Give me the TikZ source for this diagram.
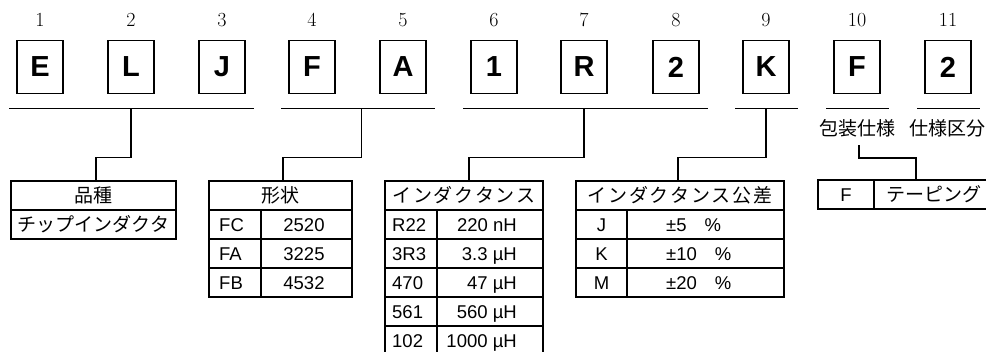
\documentclass[tikz,border=0pt]{standalone}
\usepackage{fontspec}
\usepackage{tikz}
\usetikzlibrary{calc}
\newfontfamily\helv{Liberation Sans}
\newfontfamily\cjk{Noto Sans CJK JP}
\newcommand{\spread}[2]{\makebox[#1]{\spaceskip=0pt plus 1fil\relax #2}}

\tikzset{
  code/.style={draw, line width=1.1pt, minimum width=46pt, minimum height=53pt,
    inner sep=0pt, font=\helv\bfseries\fontsize{29}{30}\selectfont},
  posnum/.style={anchor=base, inner sep=0pt, font=\fontsize{20}{22}\selectfont},
  bracket/.style={line width=1.1pt},
  link/.style={line width=1.1pt},
  tbl/.style={line width=1.1pt},
  txt/.style={anchor=base, inner sep=0pt, font=\helv\fontsize{18.5}{20}\selectfont},
  jp/.style={anchor=base, inner sep=0pt, font=\cjk\fontsize{19}{21}\selectfont},
}

\begin{document}
\begin{tikzpicture}[x=1pt,y=-1pt]
            \useasboundingbox (0,0) rectangle (986,351);
            \clip (0,0) rectangle (986,351);
            % Code letters with their positions
            \foreach \x/\c [count=\i] in {40/E,131/L,222/J,312/F,403/A,494/1,584/R,676/2,766/K,857/F,948/2} {
                \node[code]   (b\i) at (\x,67) {\c};
                \node[posnum] (n\i) at (\x,26) {\i};
            }
            % Brackets under the letters
            \foreach \a/\b/\g in {1/3/1,4/5/2,6/8/3,9/9/4,10/10/5,11/11/6}
                \draw[bracket] ($(b\a.south west)+(-7,14)$) coordinate (gl\g) -- ($(b\b.south east)+(8,14)$) coordinate (gr\g);
            \node[jp] (p10) at (857,135) {包装仕様};
            \node[jp] (p11) at (947,135) {仕様区分};
            \coordinate (p10s) at (859,145);

            % Table: type
            \draw[tbl] (11,181) rectangle (176,239) (11,210) -- (176,210);
            \coordinate (t1top) at (96,181);
            \node[jp] (t1h) at (93.5,202.7) {品種};
            \node[jp] (t1r) at (93.5,231.7) {\spread{150pt}{チ ッ プ イ ン ダ ク タ}};

            % Table: shape
            \draw[tbl] (209,181) rectangle (352,297);
            \foreach \y in {210,239,268} \draw[tbl] (209,\y) -- (352,\y);
            \draw[tbl] (261,210) -- (261,297);
            \coordinate (t2top) at (283,181);
            \node[jp] (t2h) at (280.5,202.7) {形状};
            \foreach \k/\v [count=\r] in {FC/2520,FA/3225,FB/4532} {
                \node[txt,anchor=base west] (t2k\r) at (219,202.5+29*\r) {\k};
                \node[txt] (t2v\r) at (304,202.5+29*\r) {\v};
            }

            % Table: inductance
            \draw[tbl] (385,181) rectangle (543,355);
            \foreach \y in {210,239,268,297,326} \draw[tbl] (385,\y) -- (543,\y);
            \draw[tbl] (437,210) -- (437,355);
            \coordinate (t3top) at (469,181);
            \node[jp] (t3h) at (464,202.7) {\spread{146pt}{イ ン ダ ク タ ン ス}};
            \foreach \k/\v [count=\r] in {R22/220 nH,3R3/3.3 µH,470/47 µH,561/560 µH,102/1000 µH} {
                \node[txt,anchor=base west] (t3k\r) at (392,202.5+29*\r) {\k};
                \node[txt,anchor=base east] (t3v\r) at (517,202.5+29*\r) {\v};
            }

            % Table: tolerance
            \draw[tbl] (576,181) rectangle (784,297);
            \foreach \y in {210,239,268} \draw[tbl] (576,\y) -- (784,\y);
            \draw[tbl] (627,210) -- (627,297);
            \coordinate (t4top) at (678,181);
            \node[jp] (t4h) at (680,202.7) {\spread{188pt}{イ ン ダ ク タ ン ス 公 差}};
            \foreach \k/\v [count=\r] in {J/{±5\hspace{18pt}\%},K/{±10\hspace{18pt}\%},M/{±20\hspace{18pt}\%}} {
                \node[txt] (t4k\r) at (601.5,202.5+29*\r) {\k};
                \node[txt,anchor=base west] (t4v\r) at (666,202.5+29*\r) {\v};
            }

            % Table: packing
            \draw[tbl] (818,180) rectangle (994,209) (874,180) -- (874,209);
            \coordinate (t5top) at (916,180);
            \node[txt] (t5k) at (846,201.5) {F};
            \node[jp] (t5v) at (934,201.7) {\spread{95pt}{テ ー ピ ン グ}};

            % Connectors
            \draw[link] (b2.south |- gl1) -- ++(0,49) -| (t1top);
            \draw[link] ($(gl2)!0.52!(gr2)$) -- ++(0,49) -| (t2top);
            \draw[link] (b7.south |- gl3) -- ++(0,49) -| (t3top);
            \draw[link] (b9.south |- gl4) -- ++(0,49) -| (t4top);
            \draw[link] (p10s) -- ++(0,13) -| (t5top);
        \end{tikzpicture}
\end{document}
